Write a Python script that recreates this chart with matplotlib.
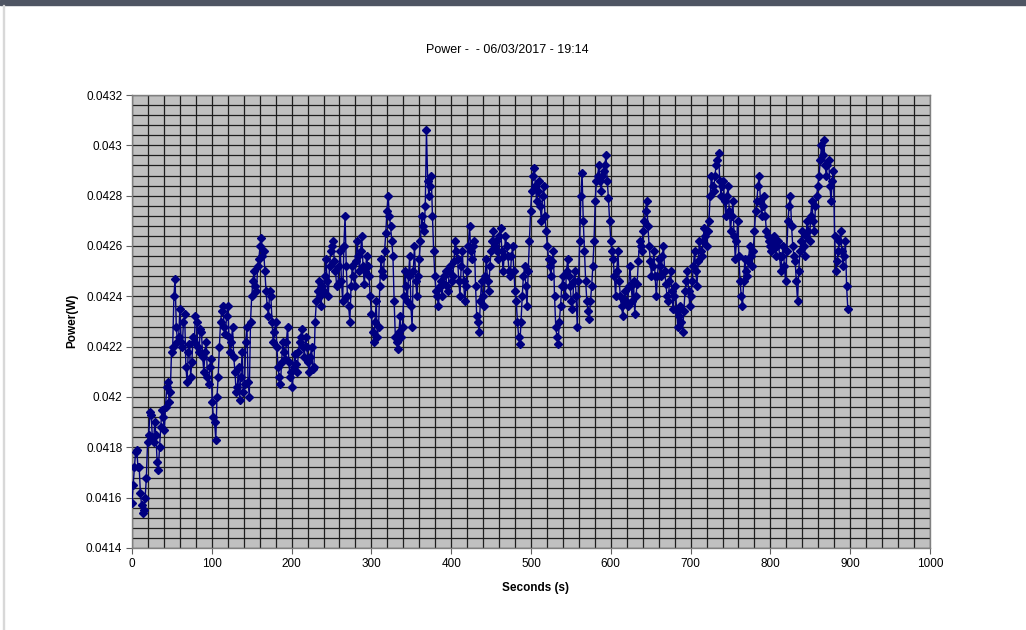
import matplotlib
matplotlib.use("Agg")
import matplotlib.pyplot as plt
from matplotlib.patches import Rectangle
from matplotlib.ticker import MultipleLocator, FuncFormatter

# logged samples (seconds) and power readings in mW
seconds = [
    0, 1.5, 3, 4.5, 6, 7.5, 9, 10.5, 12, 13.5, 15, 16.5, 18, 19.5, 21, 22.5, 24, 25.5, 27, 28.5,
    30, 31.5, 33, 34.5, 36, 37.5, 39, 40.5, 42, 43.5, 45, 46.5, 48, 49.5, 51, 52.5, 54, 55.5, 57, 58.5,
    60, 61.5, 63, 64.5, 66, 67.5, 69, 70.5, 72, 73.5, 75, 76.5, 78, 79.5, 81, 82.5, 84, 85.5, 87, 88.5,
    90, 91.5, 93, 94.5, 96, 97.5, 99, 100.5, 102, 103.5, 105, 106.5, 108, 109.5, 111, 112.5, 114, 115.5, 117, 118.5,
    120, 121.5, 123, 124.5, 126, 127.5, 129, 130.5, 132, 133.5, 135, 136.5, 138, 139.5, 141, 142.5, 144, 145.5, 147, 148.5,
    150, 151.5, 153, 154.5, 156, 157.5, 159, 160.5, 162, 163.5, 165, 166.5, 168, 169.5, 171, 172.5, 174, 175.5, 177, 178.5,
    180, 181.5, 183, 184.5, 186, 187.5, 189, 190.5, 192, 193.5, 195, 196.5, 198, 199.5, 201, 202.5, 204, 205.5, 207, 208.5,
    210, 211.5, 213, 214.5, 216, 217.5, 219, 220.5, 222, 223.5, 225, 226.5, 228, 229.5, 231, 232.5, 234, 235.5, 237, 238.5,
    240, 241.5, 243, 244.5, 246, 247.5, 249, 250.5, 252, 253.5, 255, 256.5, 258, 259.5, 261, 262.5, 264, 265.5, 267, 268.5,
    270, 271.5, 273, 274.5, 276, 277.5, 279, 280.5, 282, 283.5, 285, 286.5, 288, 289.5, 291, 292.5, 294, 295.5, 297, 298.5,
    300, 301.5, 303, 304.5, 306, 307.5, 309, 310.5, 312, 313.5, 315, 316.5, 318, 319.5, 321, 322.5, 324, 325.5, 327, 328.5,
    330, 331.5, 333, 334.5, 336, 337.5, 339, 340.5, 342, 343.5, 345, 346.5, 348, 349.5, 351, 352.5, 354, 355.5, 357, 358.5,
    360, 361.5, 363, 364.5, 366, 367.5, 369, 370.5, 372, 373.5, 375, 376.5, 378, 379.5, 381, 382.5, 384, 385.5, 387, 388.5,
    390, 391.5, 393, 394.5, 396, 397.5, 399, 400.5, 402, 403.5, 405, 406.5, 408, 409.5, 411, 412.5, 414, 415.5, 417, 418.5,
    420, 421.5, 423, 424.5, 426, 427.5, 429, 430.5, 432, 433.5, 435, 436.5, 438, 439.5, 441, 442.5, 444, 445.5, 447, 448.5,
    450, 451.5, 453, 454.5, 456, 457.5, 459, 460.5, 462, 463.5, 465, 466.5, 468, 469.5, 471, 472.5, 474, 475.5, 477, 478.5,
    480, 481.5, 483, 484.5, 486, 487.5, 489, 490.5, 492, 493.5, 495, 496.5, 498, 499.5, 501, 502.5, 504, 505.5, 507, 508.5,
    510, 511.5, 513, 514.5, 516, 517.5, 519, 520.5, 522, 523.5, 525, 526.5, 528, 529.5, 531, 532.5, 534, 535.5, 537, 538.5,
    540, 541.5, 543, 544.5, 546, 547.5, 549, 550.5, 552, 553.5, 555, 556.5, 558, 559.5, 561, 562.5, 564, 565.5, 567, 568.5,
    570, 571.5, 573, 574.5, 576, 577.5, 579, 580.5, 582, 583.5, 585, 586.5, 588, 589.5, 591, 592.5, 594, 595.5, 597, 598.5,
    600, 601.5, 603, 604.5, 606, 607.5, 609, 610.5, 612, 613.5, 615, 616.5, 618, 619.5, 621, 622.5, 624, 625.5, 627, 628.5,
    630, 631.5, 633, 634.5, 636, 637.5, 639, 640.5, 642, 643.5, 645, 646.5, 648, 649.5, 651, 652.5, 654, 655.5, 657, 658.5,
    660, 661.5, 663, 664.5, 666, 667.5, 669, 670.5, 672, 673.5, 675, 676.5, 678, 679.5, 681, 682.5, 684, 685.5, 687, 688.5,
    690, 691.5, 693, 694.5, 696, 697.5, 699, 700.5, 702, 703.5, 705, 706.5, 708, 709.5, 711, 712.5, 714, 715.5, 717, 718.5,
    720, 721.5, 723, 724.5, 726, 727.5, 729, 730.5, 732, 733.5, 735, 736.5, 738, 739.5, 741, 742.5, 744, 745.5, 747, 748.5,
    750, 751.5, 753, 754.5, 756, 757.5, 759, 760.5, 762, 763.5, 765, 766.5, 768, 769.5, 771, 772.5, 774, 775.5, 777, 778.5,
    780, 781.5, 783, 784.5, 786, 787.5, 789, 790.5, 792, 793.5, 795, 796.5, 798, 799.5, 801, 802.5, 804, 805.5, 807, 808.5,
    810, 811.5, 813, 814.5, 816, 817.5, 819, 820.5, 822, 823.5, 825, 826.5, 828, 829.5, 831, 832.5, 834, 835.5, 837, 838.5,
    840, 841.5, 843, 844.5, 846, 847.5, 849, 850.5, 852, 853.5, 855, 856.5, 858, 859.5, 861, 862.5, 864, 865.5, 867, 868.5,
    870, 871.5, 873, 874.5, 876, 877.5, 879, 880.5, 882, 883.5, 885, 886.5, 888, 889.5, 891, 892.5, 894, 895.5, 897,
]

power_mw = [
    41.58, 41.65, 41.72, 41.78, 41.79, 41.72, 41.72, 41.62, 41.57, 41.54, 41.55, 41.60, 41.68, 41.82, 41.85, 41.94, 41.93, 41.84, 41.82, 41.90,
    41.85, 41.74, 41.71, 41.80, 41.88, 41.95, 41.92, 41.87, 41.96, 42.04, 42.06, 41.98, 42.02, 42.18, 42.20, 42.40, 42.47, 42.28, 42.22, 42.24,
    42.35, 42.22, 42.20, 42.30, 42.33, 42.12, 42.06, 42.18, 42.21, 42.08, 42.14, 42.24, 42.22, 42.32, 42.30, 42.20, 42.18, 42.27, 42.26, 42.16,
    42.10, 42.18, 42.22, 42.08, 42.05, 42.12, 42.15, 41.98, 41.92, 41.90, 41.83, 42.00, 42.08, 42.20, 42.30, 42.34, 42.36, 42.28, 42.25, 42.32,
    42.36, 42.24, 42.18, 42.22, 42.28, 42.16, 42.10, 42.02, 42.04, 42.12, 41.99, 42.08, 42.18, 42.02, 42.05, 42.22, 42.28, 42.06, 42.00, 42.30,
    42.40, 42.46, 42.50, 42.44, 42.42, 42.52, 42.55, 42.60, 42.63, 42.56, 42.58, 42.50, 42.42, 42.36, 42.32, 42.42, 42.40, 42.30, 42.22, 42.26,
    42.30, 42.20, 42.12, 42.08, 42.05, 42.14, 42.22, 42.18, 42.15, 42.22, 42.28, 42.14, 42.08, 42.10, 42.04, 42.12, 42.17, 42.13, 42.10, 42.18,
    42.22, 42.24, 42.27, 42.20, 42.16, 42.24, 42.20, 42.14, 42.10, 42.16, 42.20, 42.11, 42.12, 42.30, 42.38, 42.42, 42.46, 42.40, 42.36, 42.44,
    42.42, 42.48, 42.55, 42.46, 42.40, 42.52, 42.58, 42.60, 42.62, 42.54, 42.50, 42.44, 42.45, 42.52, 42.58, 42.46, 42.38, 42.60, 42.72, 42.52,
    42.40, 42.36, 42.30, 42.44, 42.52, 42.48, 42.44, 42.54, 42.62, 42.56, 42.50, 42.58, 42.64, 42.52, 42.45, 42.50, 42.56, 42.52, 42.48, 42.40,
    42.33, 42.26, 42.22, 42.30, 42.38, 42.24, 42.28, 42.44, 42.55, 42.50, 42.48, 42.58, 42.65, 42.74, 42.80, 42.72, 42.68, 42.62, 42.56, 42.38,
    42.24, 42.22, 42.19, 42.26, 42.32, 42.24, 42.28, 42.40, 42.50, 42.44, 42.38, 42.48, 42.56, 42.36, 42.28, 42.50, 42.60, 42.46, 42.40, 42.48,
    42.55, 42.62, 42.72, 42.68, 42.66, 42.76, 43.06, 42.86, 42.80, 42.84, 42.88, 42.72, 42.58, 42.48, 42.42, 42.40, 42.36, 42.44, 42.46, 42.40,
    42.45, 42.48, 42.50, 42.44, 42.42, 42.50, 42.52, 42.46, 42.48, 42.54, 42.62, 42.58, 42.55, 42.46, 42.40, 42.52, 42.58, 42.46, 42.38, 42.44,
    42.50, 42.60, 42.68, 42.58, 42.55, 42.60, 42.62, 42.44, 42.32, 42.30, 42.26, 42.38, 42.46, 42.40, 42.36, 42.48, 42.55, 42.46, 42.42, 42.52,
    42.58, 42.62, 42.66, 42.60, 42.62, 42.58, 42.55, 42.64, 42.67, 42.58, 42.50, 42.56, 42.64, 42.60, 42.56, 42.50, 42.48, 42.56, 42.60, 42.50,
    42.42, 42.38, 42.30, 42.24, 42.21, 42.30, 42.40, 42.48, 42.52, 42.44, 42.36, 42.50, 42.62, 42.74, 42.82, 42.88, 42.91, 42.84, 42.78, 42.82,
    42.86, 42.76, 42.70, 42.80, 42.84, 42.72, 42.66, 42.60, 42.55, 42.52, 42.48, 42.54, 42.58, 42.40, 42.28, 42.24, 42.21, 42.30, 42.36, 42.44,
    42.48, 42.44, 42.40, 42.50, 42.55, 42.48, 42.44, 42.38, 42.35, 42.46, 42.50, 42.40, 42.28, 42.46, 42.62, 42.80, 42.89, 42.70, 42.58, 42.46,
    42.38, 42.34, 42.31, 42.38, 42.44, 42.52, 42.62, 42.78, 42.86, 42.88, 42.92, 42.86, 42.82, 42.88, 42.90, 42.92, 42.96, 42.86, 42.79, 42.70,
    42.62, 42.58, 42.55, 42.48, 42.40, 42.50, 42.58, 42.46, 42.40, 42.36, 42.32, 42.38, 42.42, 42.38, 42.36, 42.44, 42.52, 42.44, 42.38, 42.46,
    42.33, 42.40, 42.45, 42.54, 42.62, 42.60, 42.58, 42.66, 42.70, 42.74, 42.78, 42.68, 42.60, 42.54, 42.48, 42.52, 42.58, 42.48, 42.40, 42.48,
    42.55, 42.52, 42.48, 42.56, 42.60, 42.50, 42.45, 42.40, 42.38, 42.46, 42.50, 42.42, 42.35, 42.40, 42.44, 42.34, 42.28, 42.32, 42.36, 42.30,
    42.26, 42.34, 42.42, 42.46, 42.50, 42.42, 42.36, 42.40, 42.46, 42.52, 42.58, 42.50, 42.44, 42.54, 42.62, 42.58, 42.56, 42.62, 42.67, 42.64,
    42.60, 42.66, 42.70, 42.80, 42.88, 42.84, 42.82, 42.88, 42.92, 42.94, 42.97, 42.86, 42.80, 42.84, 42.86, 42.78, 42.72, 42.80, 42.84, 42.74,
    42.66, 42.72, 42.78, 42.64, 42.55, 42.62, 42.70, 42.56, 42.46, 42.40, 42.36, 42.46, 42.55, 42.50, 42.48, 42.54, 42.60, 42.56, 42.52, 42.58,
    42.66, 42.74, 42.78, 42.84, 42.88, 42.78, 42.72, 42.76, 42.80, 42.72, 42.66, 42.64, 42.62, 42.60, 42.58, 42.62, 42.64, 42.60, 42.56, 42.60,
    42.62, 42.56, 42.50, 42.56, 42.60, 42.52, 42.46, 42.58, 42.70, 42.76, 42.80, 42.68, 42.60, 42.56, 42.54, 42.46, 42.38, 42.50, 42.58, 42.62,
    42.66, 42.60, 42.56, 42.64, 42.70, 42.66, 42.62, 42.72, 42.78, 42.70, 42.66, 42.76, 42.80, 42.84, 42.88, 42.94, 43.00, 42.96, 43.02, 42.92,
    42.88, 42.92, 42.94, 42.84, 42.78, 42.86, 42.90, 42.64, 42.50, 42.54, 42.58, 42.62, 42.66, 42.58, 42.52, 42.56, 42.62, 42.44, 42.35,
]

title = "Power -  - 06/03/2017 - 19:14"


def main():
    plt.rcParams["font.family"] = ["Liberation Sans", "DejaVu Sans"]

    fig = plt.figure(figsize=(10.26, 6.3), dpi=100)
    fig.patch.set_facecolor("white")
    # dark window strip along the top edge
    fig.patches.append(Rectangle((0, 1 - 5 / 630), 1, 5 / 630,
                                 transform=fig.transFigure, color="#4f5563"))
    fig.patches.append(Rectangle((3 / 1026, 0), 1 / 1026, 1 - 5 / 630,
                                 transform=fig.transFigure, color="#d8d8d8"))

    ax = fig.add_axes([132 / 1026, 1 - 548 / 630, 798 / 1026, 453 / 630])
    ax.set_facecolor("#c0c0c0")

    power_w = [p / 1000 for p in power_mw]
    ax.plot(seconds, power_w, color="#000080", lw=1.0, marker="D",
            markersize=4.5, markerfacecolor="#000080", markeredgecolor="#000080",
            zorder=3)

    ax.set_xlim(0, 1000)
    ax.set_ylim(0.0414, 0.0432)
    ax.xaxis.set_major_locator(MultipleLocator(100))
    ax.xaxis.set_minor_locator(MultipleLocator(20))
    ax.yaxis.set_major_locator(MultipleLocator(0.0002))
    ax.yaxis.set_minor_locator(MultipleLocator(0.00004))
    ax.yaxis.set_major_formatter(FuncFormatter(lambda v, _: f"{v:.4f}".rstrip("0")))

    ax.grid(True, which="both", color="#1e1e1e", lw=0.9, zorder=1)
    ax.set_axisbelow(True)

    ax.tick_params(which="major", direction="out", length=4, width=0.8,
                   color="#606060", labelsize=8.5, pad=3)
    ax.tick_params(which="minor", length=0)
    for side in ax.spines.values():
        side.set_color("#808080")
        side.set_linewidth(1.0)

    fig.text(0.494, 1 - 50 / 630, title, ha="center", va="center", fontsize=9)
    fig.text(535 / 1026, 1 - 588 / 630, "Seconds (s)", ha="center", va="center",
             fontsize=8.5, fontweight="bold")
    fig.text(72 / 1026, 1 - 321 / 630, "Power(W)", ha="center", va="center",
             rotation=90, fontsize=8.5, fontweight="bold")

    fig.savefig("out.png", dpi=100)


if __name__ == "__main__":
    main()
